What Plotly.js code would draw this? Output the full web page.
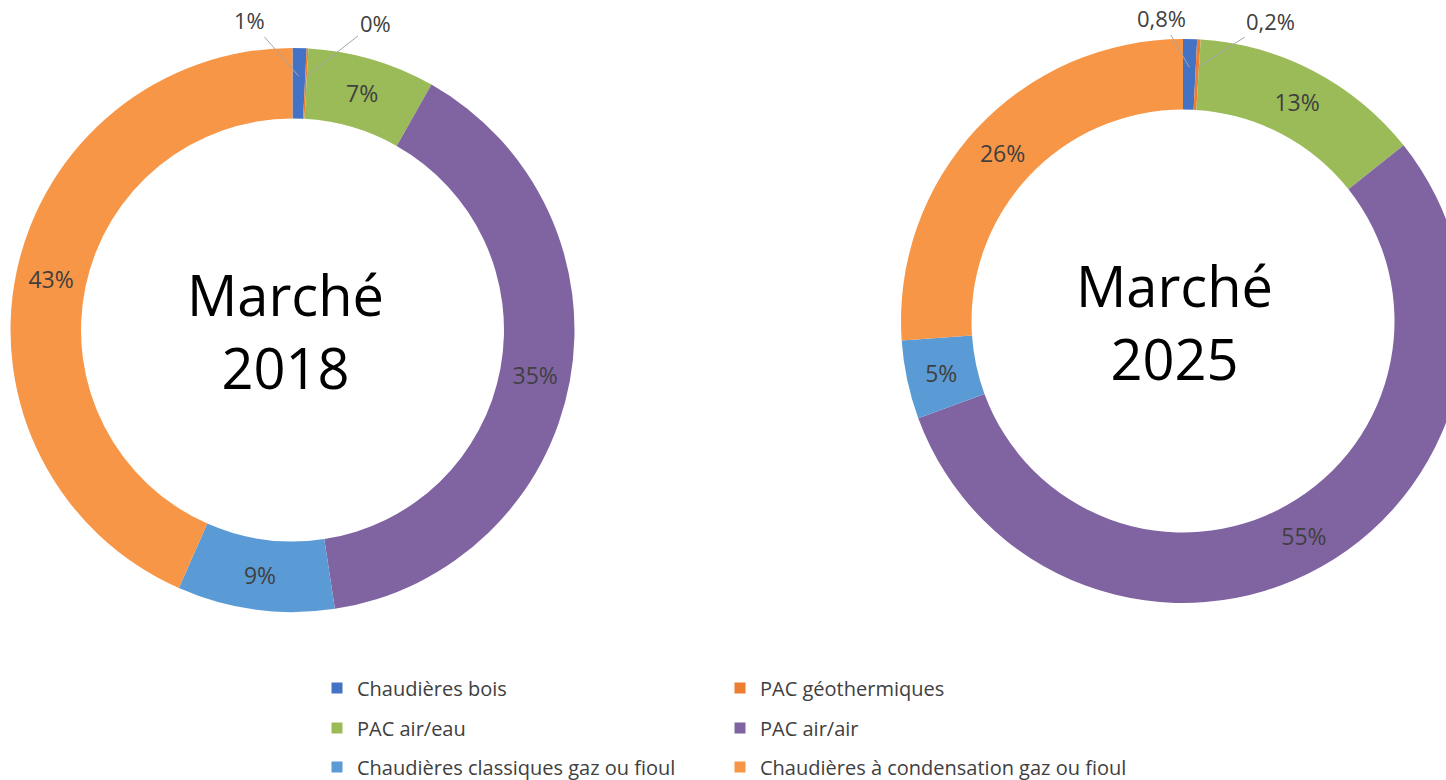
<!DOCTYPE html>
<html><head><meta charset="utf-8">
<script src="https://cdn.plot.ly/plotly-3.0.1.min.js"></script>
<style>html,body{margin:0;padding:0;overflow:hidden;background:#fff}#chart{width:1500px;height:780px}</style>
</head><body><div id="chart"></div>
<script>
// ---- data ----
const categories = ['Chaudières bois','PAC géothermiques','PAC air/eau','PAC air/air','Chaudières classiques gaz ou fioul','Chaudières à condensation gaz ou fioul'];
const colors = ['#4472C4','#ED7D31','#9BBB59','#8064A2','#5B9BD5','#F79646'];
const values2018 = [0.8, 0.1, 7.3, 39.4, 9.0, 43.4];
const labels2018 = ['1%','0%','7%','35%','9%','43%'];
const values2025 = [0.8, 0.2, 13.3, 55.1, 4.5, 26.1];
const labels2025 = ['0,8%','0,2%','13%','55%','5%','26%'];
const centerTitles = ['Marché<br>2018','Marché<br>2025'];
const legendRows = [[0,1],[2,3],[4,5]];

// ---- layout / style config ----
const W = 1500, H = 780;
const FONT = 'Open Sans, Lato, sans-serif';
const donuts = [
  {cx: 292.5, cy: 330, r: 282, values: values2018, text: labels2018, title: centerTitles[0],
   titleShift: -7, leader: [[-49,-56],[69,-54]]},
  {cx: 1183, cy: 321, r: 282, values: values2025, text: labels2025, title: centerTitles[1],
   titleShift: -9, leader: [[-28,-49],[73,-47]]}
];
const HOLE = 0.75;
const SMALL_SHARE = 0.02;
const legendX = 317, legendRowY = [688, 728, 767], entryWidth = 358;

const traces = [];
const annotations = [];
donuts.forEach(d => {
  const total = d.values.reduce((a,b)=>a+b,0);
  const dx = [(d.cx - d.r)/W, (d.cx + d.r)/W];
  const dy = [1 - (d.cy + d.r)/H, 1 - (d.cy - d.r)/H];
  traces.push({
    type: 'pie', values: d.values, labels: categories, text: d.text,
    textinfo: 'text',
    textposition: d.values.map(v => v/total < SMALL_SHARE ? 'none' : 'inside'),
    insidetextorientation: 'horizontal',
    insidetextfont: {family: FONT, size: 23, color: '#404040'},
    marker: {colors: colors, line: {width: 0}},
    hole: HOLE, sort: false, direction: 'clockwise', rotation: 0,
    domain: {x: dx, y: dy}, showlegend: false, hoverinfo: 'label+text'
  });
  annotations.push({
    x: (dx[0]+dx[1])/2, y: (dy[0]+dy[1])/2, xref: 'paper', yref: 'paper',
    xshift: d.titleShift,
    text: d.title, showarrow: false, xanchor: 'center', yanchor: 'middle',
    font: {family: FONT, size: 56, color: '#000000'}
  });
  // leader-line labels for the tiny slices
  let cum = 0, k = 0;
  d.values.forEach((v, i) => {
    const mid = (cum + v/2) / total * 2 * Math.PI;
    cum += v;
    if (v/total < SMALL_SHARE) {
      const rt = d.r * 0.9;
      const px = d.cx + rt * Math.sin(mid), py = d.cy - rt * Math.cos(mid);
      const off = d.leader[k++] || [0, -50];
      annotations.push({
        x: px / W, y: 1 - py / H, xref: 'paper', yref: 'paper',
        text: d.text[i], showarrow: true, arrowhead: 0, arrowwidth: 1,
        arrowcolor: '#A6A6A6', standoff: 0, ax: off[0], ay: off[1],
        font: {family: FONT, size: 22, color: '#404040'}
      });
    }
  });
});

// legend entries (two per row, three rows)
const legendNames = ['legend','legend2','legend3'];
legendRows.forEach((row, r) => {
  row.forEach((i, c) => {
    traces.push({
      type: 'scatter', x: [null], y: [null], mode: 'markers', name: categories[i],
      marker: {symbol: 'square', size: 11, color: colors[i]},
      legend: legendNames[r], showlegend: true, hoverinfo: 'skip',
      legendwidth: c === 1 ? 420 : entryWidth
    });
  });
});

const layout = {
  width: W, height: H,
  margin: {l: 0, r: 0, t: 0, b: 0, autoexpand: false},
  paper_bgcolor: '#ffffff', plot_bgcolor: 'rgba(0,0,0,0)',
  xaxis: {visible: false}, yaxis: {visible: false},
  annotations: annotations
};
legendNames.forEach((n, r) => {
  layout[n] = {
    orientation: 'h', x: legendX / W, xanchor: 'left',
    y: 1 - legendRowY[r] / H, yanchor: 'middle',
    entrywidth: entryWidth, entrywidthmode: 'pixels',
    font: {family: FONT, size: 20, color: '#404040'},
    bgcolor: 'rgba(0,0,0,0)', borderwidth: 0
  };
});

Plotly.newPlot('chart', traces, layout, {displayModeBar: false, staticPlot: true});
</script>
</body></html>
